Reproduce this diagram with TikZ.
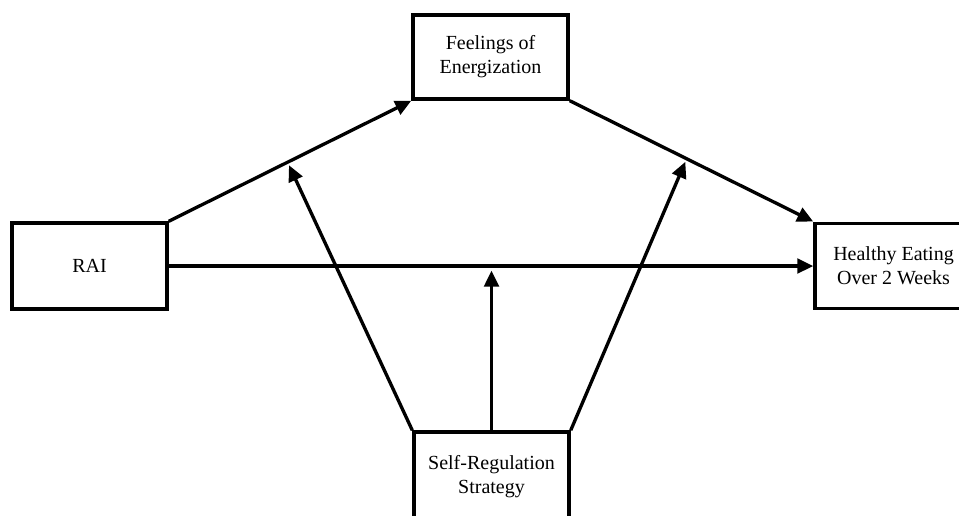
\documentclass[tikz,border=0pt]{standalone}
\usepackage{fontspec}
\setmainfont{Liberation Serif}
\usetikzlibrary{arrows.meta,calc}
\begin{document}
\begin{tikzpicture}[x=0.75pt,y=-0.75pt,
  box/.style={draw, line width=2.6pt, fill=white, align=center, inner sep=0pt,
    font=\fontsize{15}{18}\selectfont},
  conn/.style={line width=2.5pt, -{Triangle[length=12pt,width=11pt]}}]
\clip (0,0) rectangle (959,515);
\useasboundingbox (0,0) rectangle (959,515);
\node[box, minimum width=116.25pt, minimum height=63pt] (feel) at (490.5,57) {Feelings of\\Energization};
\node[box, minimum width=116.25pt, minimum height=64.5pt] (rai) at (89.5,266) {RAI};
\node[box, minimum width=117.75pt, minimum height=64pt] (heal) at (893.5,266) {Healthy Eating\\Over 2 Weeks};
\node[box, minimum width=116.25pt, minimum height=67.5pt] (srs) at (491.5,477) {Self-Regulation\\Strategy};
\coordinate (m1) at ($(rai.north east)!0.49!(feel.south west)$);
\coordinate (m2) at ($(feel.south east)!0.48!(heal.north west)$);
\coordinate (m3) at (srs.north |- rai.east);
\draw[conn] (rai.north east) -- (feel.south west);
\draw[conn] (feel.south east) -- (heal.north west);
\draw[conn] (rai.east) -- (heal.west);
\draw[conn, shorten >=2.5pt] (srs.north west) -- (m1);
\draw[conn, shorten >=2.5pt] (srs.north east) -- (m2);
\draw[conn, shorten >=3.5pt] (srs.north) -- (m3);
\end{tikzpicture}
\end{document}
